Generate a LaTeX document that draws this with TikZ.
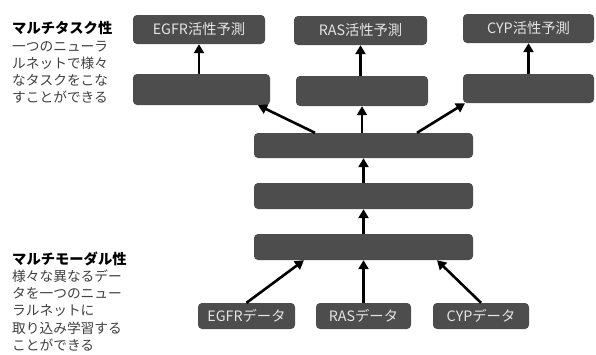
\documentclass[tikz,border=0pt]{standalone}
\usepackage{fontspec}
\setmainfont{Noto Sans CJK JP}
\usetikzlibrary{arrows.meta}
\definecolor{boxgray}{HTML}{4D4D4D}
\definecolor{boxtext}{HTML}{E4E4E4}
\definecolor{bodytext}{HTML}{404040}
\tikzset{
  box/.style={fill=boxgray, rounded corners=4pt, text=boxtext, inner sep=0pt,
    font=\fontsize{14.3}{16}\selectfont},
  arr/.style={draw=black, line width=2.6pt, -{Triangle[length=9pt,width=10pt]}},
  side/.style={anchor=north west, align=left, inner sep=0pt, text=bodytext,
    font=\fontsize{13.7}{17.2}\selectfont},
  sidetitle/.style={}
}
\newcommand{\mytitle}[1]{{\fontsize{14.3}{17.2}\selectfont\bfseries\color{black}#1}}
\begin{document}
\begin{tikzpicture}[x=1pt,y=-1pt]
\useasboundingbox[fill=white] (0,0) rectangle (596,354);
% outputs
\node[box, minimum width=132pt, minimum height=29pt] (o1) at (199,29.5) {EGFR活性予測};
\node[box, minimum width=133pt, minimum height=29pt] (o2) at (360.5,30.5) {RAS活性予測};
\node[box, minimum width=131pt, minimum height=29pt] (o3) at (528.5,28.5) {CYP活性予測};
% heads
\node[box, minimum width=137pt, minimum height=31pt] (h1) at (201.5,89.5) {};
\node[box, minimum width=132pt, minimum height=30pt] (h2) at (362,91) {};
\node[box, minimum width=131pt, minimum height=29pt] (h3) at (528.5,88.5) {};
% shared layers
\node[box, minimum width=219pt, minimum height=25pt] (w1) at (363.5,145.5) {};
\node[box, minimum width=219pt, minimum height=26pt] (w2) at (363.5,196) {};
\node[box, minimum width=219pt, minimum height=26pt] (w3) at (363.5,247) {};
% inputs
\node[box, minimum width=97pt, minimum height=26pt] (i1) at (246.5,316) {EGFRデータ};
\node[box, minimum width=95pt, minimum height=26pt] (i2) at (363.5,316) {RASデータ};
\node[box, minimum width=96pt, minimum height=26pt] (i3) at (481,316) {CYPデータ};
% arrows
\draw[arr] (o1.south |- h1.north) -- (o1.south);
\draw[arr] (o2.south |- h2.north) -- (o2.south);
\draw[arr] (o3.south |- h3.north) -- (o3.south);
\draw[arr] ([xshift=-48.5pt]w1.north) -- ([xshift=56.5pt]h1.south);
\draw[arr] (w1.north -| h2.south) -- (h2.south);
\draw[arr] ([xshift=53.5pt]w1.north) -- ([xshift=-63.5pt]h3.south);
\draw[arr] (w2.north) -- (w1.south);
\draw[arr] (w3.north) -- (w2.south);
\draw[arr] (i1.north) -- ([xshift=-59.5pt]w3.south);
\draw[arr] (i2.north) -- (w3.south);
\draw[arr] (i3.north) -- ([xshift=73.5pt]w3.south);
% side texts
\node[side] (t1) at (12,21.5) {\mytitle{マルチタスク性}\\一つのニューラ\\ルネットで様々\\なタスクをこな\\すことができる};
\node[side] (t2) at (12,251.5) {\mytitle{マルチモーダル性}\\様々な異なるデー\\タを一つのニュー\\ラルネットに\\取り込み学習する\\ことができる};
\end{tikzpicture}
\end{document}
